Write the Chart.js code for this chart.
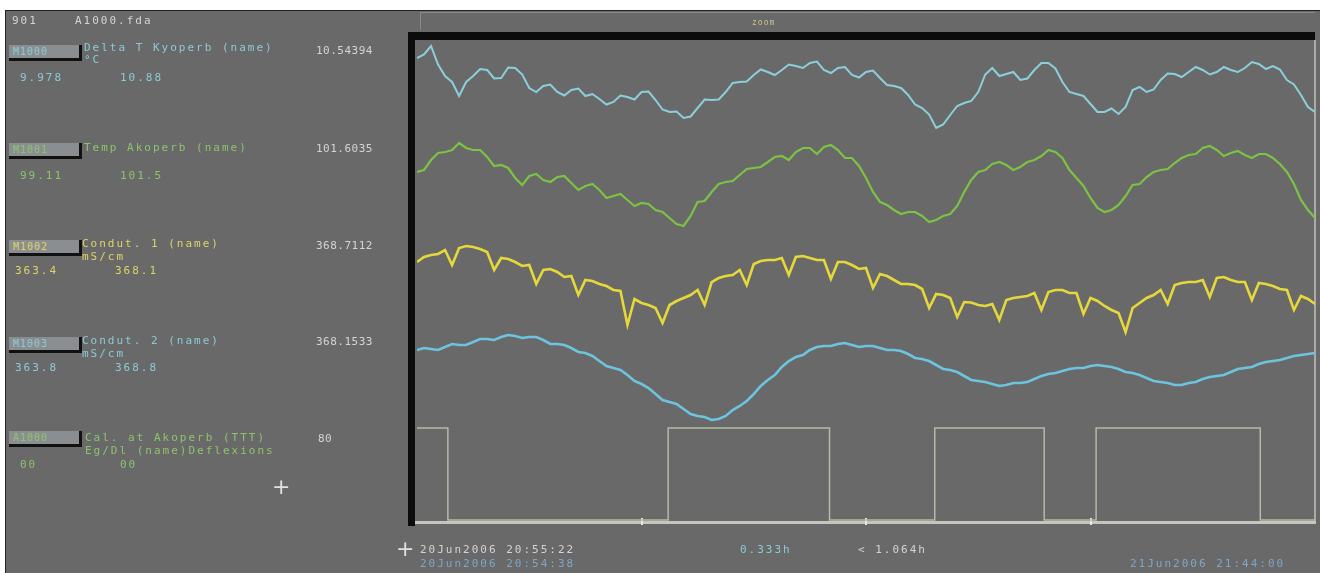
<!DOCTYPE html>
<html>
<head>
<meta charset="utf-8">
<script src="https://cdn.jsdelivr.net/npm/chart.js@4.4.1/dist/chart.umd.min.js"></script>
<style>
  html, body { margin: 0; padding: 0; background: #fff; width: 1320px; height: 573px; overflow: hidden; }
  #screen { position: absolute; left: 5px; top: 10px; width: 1315px; height: 563px; background: #696969;
            border-top: 1px solid #222; border-left: 1px solid #222; }
  #plot { position: absolute; left: 0; top: 0; }
  .t { position: absolute; font-family: "DejaVu Sans Mono", monospace; font-size: 11px; line-height: 12px;
       letter-spacing: 2px; white-space: nowrap; color: #d4d4d4; }
  .v { letter-spacing: 0.5px; }
  .btn { position: absolute; left: 9px; width: 66px; height: 13px; background: #8a8e90;
         border-right: 3px solid #111; border-bottom: 3px solid #111;
         font-family: "DejaVu Sans Mono", monospace; font-size: 10px; line-height: 13px;
         padding-left: 4px; letter-spacing: 1px; }
  .cy { color: #8ccad6; }
  .gr { color: #8cc46c; }
  .ye { color: #ddd466; }
  .bl { color: #7fa6c8; }
  .cross { position: absolute; font-family: "DejaVu Sans", sans-serif; font-size: 22px; line-height: 22px; color: #e0e0e0; }
</style>
</head>
<body>
<div id="screen"></div>
<canvas id="plot" width="1320" height="573"></canvas>

<div class="t" style="left:12px;top:15px">901</div>
<div class="t" style="left:75px;top:15px">A1000.fda</div>
<div class="t" style="left:752px;top:17px;font-size:8px;color:#c8c08c;letter-spacing:1px">zoom</div>

<div class="btn cy" style="top:45px">M1000</div>
<div class="t cy" style="left:84px;top:42px">Delta T Kyoperb (name)</div>
<div class="t cy" style="left:84px;top:54px">°C</div>
<div class="t cy" style="left:20px;top:72px">9.978</div>
<div class="t cy" style="left:120px;top:72px">10.88</div>
<div class="t v" style="left:316px;top:45px">10.54394</div>

<div class="btn gr" style="top:143px">M1001</div>
<div class="t gr" style="left:84px;top:142px">Temp Akoperb (name)</div>
<div class="t gr" style="left:20px;top:170px">99.11</div>
<div class="t gr" style="left:120px;top:170px">101.5</div>
<div class="t v" style="left:316px;top:143px">101.6035</div>

<div class="btn ye" style="top:240px">M1002</div>
<div class="t ye" style="left:82px;top:238px">Condut. 1 (name)</div>
<div class="t ye" style="left:82px;top:251px">mS/cm</div>
<div class="t ye" style="left:15px;top:265px">363.4</div>
<div class="t ye" style="left:115px;top:265px">368.1</div>
<div class="t v" style="left:316px;top:240px">368.7112</div>

<div class="btn cy" style="top:337px">M1003</div>
<div class="t cy" style="left:82px;top:335px">Condut. 2 (name)</div>
<div class="t cy" style="left:82px;top:348px">mS/cm</div>
<div class="t cy" style="left:15px;top:362px">363.8</div>
<div class="t cy" style="left:115px;top:362px">368.8</div>
<div class="t v" style="left:316px;top:336px">368.1533</div>

<div class="btn gr" style="top:431px">A1000</div>
<div class="t gr" style="left:85px;top:432px">Cal. at Akoperb (TTT)</div>
<div class="t gr" style="left:85px;top:445px">Eg/Dl  (name)Deflexions</div>
<div class="t gr" style="left:20px;top:459px">00</div>
<div class="t gr" style="left:120px;top:459px">00</div>
<div class="t v" style="left:318px;top:433px">80</div>

<div class="cross" style="left:272px;top:476px">+</div>
<div class="cross" style="left:396px;top:538px">+</div>

<div class="t" style="left:420px;top:544px">20Jun2006 20:55:22</div>
<div class="t cy" style="left:740px;top:544px">0.333h</div>
<div class="t" style="left:858px;top:544px">&lt; 1.064h</div>
<div class="t bl" style="left:420px;top:558px">20Jun2006 20:54:38</div>
<div class="t bl" style="left:1130px;top:558px">21Jun2006 21:44:00</div>

<script>
// time axis, minutes from start of window (half-minute samples)
var minutes = [0,0.5,1,1.5,2,2.5,3,3.5,4,4.5,5,5.5,6,6.5,7,7.5,8,8.5,9,9.5,
  10,10.5,11,11.5,12,12.5,13,13.5,14,14.5,15,15.5,16,16.5,17,17.5,18,18.5,19,19.5,
  20,20.5,21,21.5,22,22.5,23,23.5,24,24.5,25,25.5,26,26.5,27,27.5,28,28.5,29,29.5,
  30,30.5,31,31.5,32,32.5,33,33.5,34,34.5,35,35.5,36,36.5,37,37.5,38,38.5,39,39.5,
  40,40.5,41,41.5,42,42.5,43,43.5,44,44.5,45,45.5,46,46.5,47,47.5,48,48.5,49,49.5,
  50,50.5,51,51.5,52,52.5,53,53.5,54,54.5,55,55.5,56,56.5,57,57.5,58,58.5,59,59.5,
  60,60.5,61,61.5,62,62.5,63,63.5,64];

// Delta T (°C)
var deltaT = [10.496,10.51,10.544,10.47,10.424,10.40,10.344,10.40,10.424,10.452,
  10.448,10.414,10.416,10.458,10.456,10.43,10.376,10.36,10.384,10.39,
  10.360,10.346,10.368,10.374,10.344,10.352,10.332,10.31,10.320,10.346,
  10.340,10.33,10.360,10.362,10.328,10.29,10.280,10.282,10.256,10.262,
  10.296,10.33,10.328,10.33,10.360,10.396,10.400,10.402,10.428,10.45,
  10.440,10.428,10.448,10.47,10.464,10.456,10.476,10.482,10.448,10.436,
  10.456,10.46,10.428,10.418,10.440,10.446,10.416,10.388,10.384,10.376,
  10.348,10.31,10.296,10.27,10.216,10.23,10.268,10.304,10.316,10.324,
  10.360,10.43,10.456,10.424,10.432,10.44,10.408,10.414,10.448,10.476,
  10.476,10.454,10.400,10.36,10.352,10.344,10.312,10.28,10.280,10.294,
  10.272,10.30,10.368,10.38,10.360,10.37,10.408,10.434,10.432,10.42,
  10.440,10.46,10.448,10.43,10.440,10.46,10.448,10.44,10.456,10.48,
  10.472,10.452,10.464,10.45,10.408,10.39,10.348,10.30,10.280];

// Temp
var temp = [101.28,101.30,101.40,101.47,101.48,101.50,101.57,101.52,101.50,101.50,
  101.43,101.34,101.35,101.32,101.22,101.15,101.24,101.26,101.20,101.18,
  101.23,101.24,101.17,101.10,101.14,101.16,101.10,101.02,101.04,101.06,
  101.00,100.94,100.97,100.96,100.90,100.88,100.82,100.76,100.74,100.84,
  100.98,100.99,101.08,101.16,101.18,101.19,101.25,101.31,101.32,101.33,
  101.38,101.43,101.44,101.40,101.48,101.52,101.52,101.46,101.53,101.55,
  101.50,101.42,101.42,101.34,101.22,101.08,100.98,100.95,100.90,100.86,
  100.88,100.88,100.84,100.78,100.80,100.84,100.86,100.94,101.08,101.20,
  101.28,101.30,101.36,101.38,101.35,101.30,101.33,101.38,101.40,101.44,
  101.50,101.48,101.42,101.30,101.22,101.14,101.02,100.92,100.88,100.90,
  100.95,101.04,101.15,101.16,101.23,101.28,101.30,101.31,101.37,101.42,
  101.45,101.46,101.52,101.54,101.50,101.44,101.47,101.49,101.45,101.42,
  101.46,101.46,101.42,101.36,101.28,101.16,101.00,100.90,100.82];

// Conductivity 1 (mS/cm)
var cond1 = [368.36,368.46,368.50,368.52,368.60,368.30,368.64,368.68,368.66,368.62,
  368.56,368.20,368.44,368.42,368.36,368.28,368.30,367.92,368.20,368.22,
  368.16,368.06,368.08,367.70,368.00,367.98,367.92,367.88,367.80,367.78,
  367.10,367.62,367.54,367.50,367.44,367.14,367.50,367.58,367.64,367.70,
  367.80,367.50,367.96,368.04,368.08,368.10,368.20,367.90,368.32,368.38,
  368.40,368.40,368.44,368.10,368.46,368.48,368.44,368.40,368.40,368.02,
  368.36,368.36,368.30,368.22,368.24,367.84,368.12,368.08,368.00,367.92,
  367.92,367.90,367.82,367.44,367.72,367.70,367.64,367.26,367.56,367.55,
  367.50,367.48,367.52,367.20,367.60,367.64,367.66,367.68,367.74,367.40,
  367.76,367.80,367.80,367.74,367.74,367.32,367.64,367.58,367.48,367.40,
  367.34,366.96,367.44,367.54,367.64,367.70,367.80,367.52,367.90,367.94,
  367.96,367.96,368.00,367.66,368.04,368.06,368.00,367.96,367.96,367.60,
  367.94,367.92,367.88,367.82,367.80,367.40,367.68,367.62,367.52];

// Conductivity 2 (mS/cm)
var cond2 = [368.01,368.03,368.02,368.01,368.04,368.07,368.06,368.06,368.09,368.12,
  368.12,368.11,368.14,368.16,368.15,368.13,368.14,368.14,368.11,368.07,
  368.07,368.06,368.03,367.99,367.98,367.95,367.90,367.85,367.83,367.81,
  367.76,367.70,367.67,367.63,367.57,367.51,367.49,367.47,367.42,367.37,
  367.35,367.34,367.31,367.32,367.35,367.41,367.45,367.50,367.57,367.65,
  367.71,367.76,367.84,367.90,367.94,367.96,368.01,368.04,368.05,368.05,
  368.07,368.08,368.06,368.04,368.05,368.05,368.03,368.01,368.01,368.00,
  367.97,367.93,367.92,367.90,367.86,367.82,367.81,367.79,367.75,367.71,
  367.70,367.69,367.67,367.65,367.66,367.68,367.68,367.69,367.72,367.75,
  367.77,367.78,367.80,367.82,367.83,367.83,367.85,367.86,367.85,367.84,
  367.82,367.79,367.78,367.76,367.73,367.70,367.69,367.68,367.66,367.66,
  367.68,367.69,367.72,367.74,367.75,367.76,367.79,367.82,367.83,367.84,
  367.87,367.89,367.90,367.91,367.93,367.95,367.96,367.97,367.98];

// on/off channel: switch times (min) and state after each switch
var pumpTimes = [0, 2.2, 17.9, 29.4, 36.9, 44.7, 48.4, 60.1, 64];
var pumpState = [1, 0, 1, 0, 1, 0, 1, 0, 0];

function pts(xs, ys) {
  return xs.map(function (x, i) { return { x: x, y: ys[i] }; });
}

var framePlugin = {
  id: 'frame',
  beforeDatasetsDraw: function (chart) {
    var c = chart.ctx, a = chart.chartArea, xs = chart.scales.x;
    c.save();
    // top header strip
    c.strokeStyle = '#8a8a8a';
    c.lineWidth = 1;
    c.beginPath();
    c.moveTo(a.left + 3, 12.5); c.lineTo(a.right, 12.5);
    c.moveTo(a.left + 3.5, 12); c.lineTo(a.left + 3.5, 30);
    c.stroke();
    // black frame left + top
    c.fillStyle = '#0c0c0c';
    c.fillRect(a.left - 9, 32, a.right - a.left + 9, 8);
    c.fillRect(a.left - 9, 32, 7, a.bottom - 32 + 4);
    // light right + bottom edge
    c.fillStyle = '#aaaaa6';
    c.fillRect(a.right - 1, 40, 2, a.bottom - 40);
    c.fillStyle = '#c6c6be';
    c.fillRect(a.left - 2, a.bottom - 1, a.right - a.left + 3, 3);
    // quarter ticks on the time axis
    c.fillStyle = '#e8e8e0';
    [16, 32, 48].forEach(function (m) {
      var px = Math.round(xs.getPixelForValue(m));
      c.fillRect(px - 1, a.bottom - 4, 2, 7);
    });
    c.restore();
  }
};

new Chart(document.getElementById('plot'), {
  type: 'line',
  data: {
    datasets: [
      { data: pts(minutes, deltaT), yAxisID: 'yT', borderColor: '#8ccfdc', borderWidth: 2 },
      { data: pts(minutes, temp), yAxisID: 'yS', borderColor: '#7cc244', borderWidth: 2.2 },
      { data: pts(minutes, cond1), yAxisID: 'yC1', borderColor: '#e6d83a', borderWidth: 2.6 },
      { data: pts(minutes, cond2), yAxisID: 'yC2', borderColor: '#6cc4de', borderWidth: 2.6 },
      { data: pts(pumpTimes, pumpState), yAxisID: 'yP', borderColor: '#b4baa6', borderWidth: 1.5, stepped: 'before' }
    ]
  },
  options: {
    responsive: false,
    animation: false,
    devicePixelRatio: 1,
    layout: { padding: { left: 417, top: 42, right: 5, bottom: 51 } },
    elements: { point: { radius: 0 }, line: { tension: 0, fill: false } },
    plugins: { legend: { display: false }, tooltip: { enabled: false } },
    scales: {
      x: { type: 'linear', min: 0, max: 64, display: false },
      yT: { display: false, min: 8.64, max: 10.56 },
      yS: { display: false, min: 97.78, max: 102.58 },
      yC1: { display: false, min: 363.16, max: 372.76 },
      yC2: { display: false, min: 366.29, max: 371.09 },
      yP: { display: false, min: -0.022, max: 5.196 }
    }
  },
  plugins: [framePlugin]
});
</script>
</body>
</html>
